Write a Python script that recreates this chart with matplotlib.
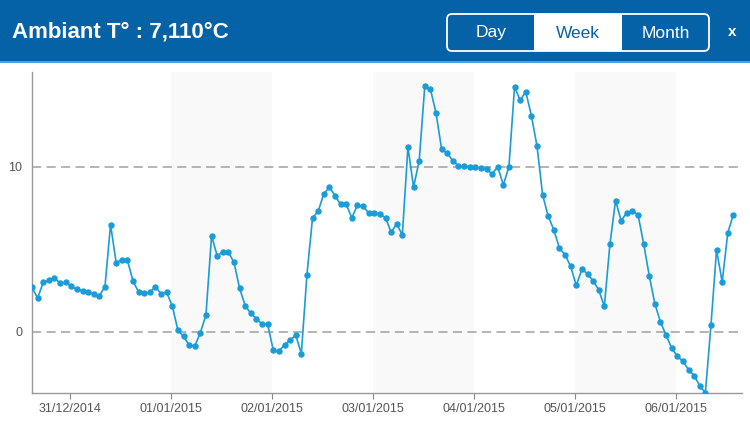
import numpy as np
import pandas as pd
import matplotlib
matplotlib.use('Agg')
import matplotlib.pyplot as plt
import matplotlib.dates as mdates
from matplotlib.patches import FancyBboxPatch, Rectangle

plt.rcParams['font.family'] = ['Liberation Sans', 'DejaVu Sans']

# readings every 80 minutes, one week
start = '2014-12-30 15:00'
temps = [2.69, 2.04, 2.99, 3.11, 3.23, 2.97, 2.99, 2.75, 2.57, 2.48, 2.42, 2.28, 2.18, 2.73, 6.50,
         4.18, 4.38, 4.34, 3.07, 2.41, 2.32,
         2.38, 2.73, 2.30, 2.38, 1.56, 0.10, -0.28, -0.81, -0.89, -0.06, 1.01, 5.82, 4.61, 4.83,
         4.83, 4.20, 2.63, 1.58, 1.11, 0.79, 0.46, 0.46,
         -1.13, -1.19, -0.79, -0.53, -0.20, -1.33, 3.47, 6.91, 7.31, 8.36, 8.77, 8.26, 7.72, 7.72,
         6.91, 7.68, 7.60, 7.21, 7.21, 7.15, 6.91,
         6.04, 6.54, 5.87, 11.21, 8.78, 10.36, 14.89, 14.73, 13.28, 11.08, 10.84, 10.37,
         10.05, 10.03, 10.01, 9.98, 9.91, 9.87, 9.58, 10.01, 8.91, 10.02,
         14.87, 14.04, 14.57, 13.11, 11.27, 8.30, 7.01, 6.18, 5.07, 4.67, 3.96, 2.81, 3.78, 3.52,
         3.07, 2.55, 1.53, 5.33,
         7.96, 6.73, 7.23, 7.31, 7.11, 5.35, 3.41, 1.70, 0.59, -0.20, -0.99, -1.49, -1.80, -2.30,
         -2.67, -3.27, -3.72, 0.38, 4.97, 3.01, 6.00, 7.11]
times = pd.date_range(start, periods=len(temps), freq='80min')
shaded_days = ['2015-01-01', '2015-01-03', '2015-01-05']
tick_days = pd.date_range('2014-12-31', '2015-01-06', freq='D')
yticks = [0, 10]
current = '7,110'
buttons = ['Day', 'Week', 'Month']

blue = '#0662a7'
line_c = '#1a9cd8'
grey = '#a0a0a0'

fig = plt.figure(figsize=(7.5, 4.23), dpi=100)
W, H = 750, 423
ax = fig.add_axes([32/W, 30/H, 710/W, 321/H])

for d in shaded_days:
    d0 = pd.Timestamp(d)
    ax.axvspan(d0, d0 + pd.Timedelta(days=1), color='#f9f9f9', lw=0, zorder=0)
for yv in yticks:
    ax.axhline(yv, color=grey, lw=1.1, dashes=(6, 3.5), zorder=1)

ax.plot(times, temps, color=line_c, lw=1.2, marker='o', ms=3.6, zorder=3)

x0 = mdates.date2num(times[0])
ax.set_xlim(x0, x0 + 710/101)
ax.set_ylim(-3.72, 15.76)
ax.set_xticks(tick_days)
ax.xaxis.set_major_formatter(mdates.DateFormatter('%d/%m/%Y'))
ax.set_yticks(yticks)
ax.tick_params(axis='x', colors='#888', labelcolor='#555', labelsize=9, length=4, pad=3)
ax.tick_params(axis='y', length=0, labelcolor='#555', labelsize=9, pad=7)
for s in ['top', 'right']:
    ax.spines[s].set_visible(False)
for s in ['left', 'bottom']:
    ax.spines[s].set_color('#999')
    ax.spines[s].set_linewidth(1.0)

# header band, drawn in pixel coordinates
hd = fig.add_axes([0, 0, 1, 1], zorder=5)
hd.set_xlim(0, W); hd.set_ylim(H, 0); hd.axis('off')
hd.patch.set_alpha(0)
hd.add_patch(Rectangle((0, 0), W, 61, color=blue, lw=0))
hd.add_patch(Rectangle((0, 61), W, 2, color='#5b9bd0', lw=0))
hd.text(12, 32, f'Ambiant T° : {current}°C', color='white', fontsize=16,
        fontweight='bold', va='center', ha='left')

bx0, bx1, by0, by1 = 447, 709, 14, 51
seg = (bx1 - bx0) / 3
hd.add_patch(Rectangle((bx0 + seg, by0), seg, by1 - by0, color='white', lw=0))
hd.add_patch(FancyBboxPatch((bx0, by0), bx1 - bx0, by1 - by0,
                            boxstyle='round,pad=0,rounding_size=5',
                            fc='none', ec='white', lw=1.3))
for i, b in enumerate(buttons):
    hd.text(bx0 + seg*(i + 0.5), 33, b, color=blue if i == 1 else 'white',
            fontsize=12.5, ha='center', va='center')
hd.text(732, 32, 'x', color='white', fontsize=11, fontweight='bold',
        ha='center', va='center')

fig.savefig('out.png', dpi=100)
